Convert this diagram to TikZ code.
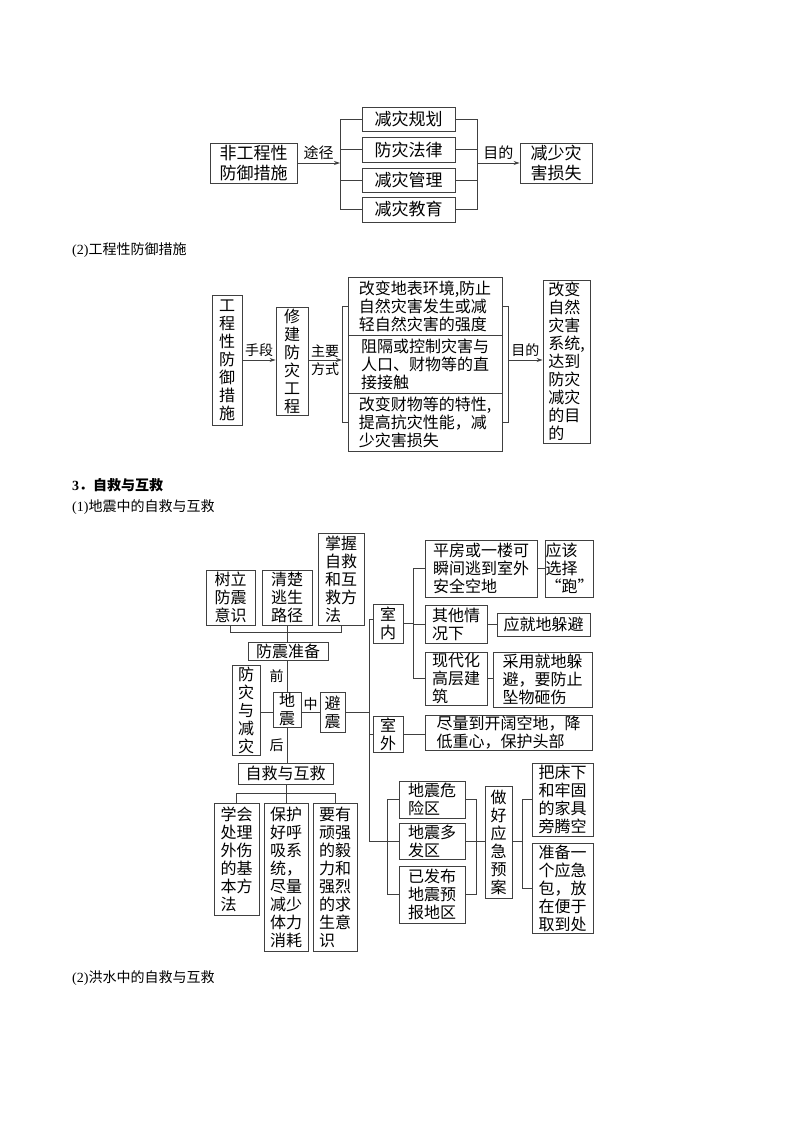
\documentclass[tikz,border=0pt]{standalone}
\usepackage{fontspec}
\setmainfont{Noto Sans CJK SC}
\newfontfamily\lat{Liberation Serif}
\usetikzlibrary{arrows.meta}
\newcommand\mybox[7][]{\node[bx,#1,minimum width={(#5-#3)*1pt},minimum height={(#6-#4)*1pt}] (#2) at ({(#3+#5)/2},{(#4+#6)/2}) {#7};}
\begin{document}
\begin{tikzpicture}[x=1pt,y=-1pt,
  bx/.style={draw=black!75, line width=0.9pt, inner sep=0pt, align=left, font=\fontsize{16}{18}\selectfont},
  fbig/.style={font=\fontsize{17}{20}\selectfont},
  ln/.style={draw=black!75, line width=0.9pt},
  arr/.style={ln, -{Stealth[length=6pt,width=4pt]}},
  lab/.style={inner sep=0pt, font=\fontsize{14}{18}\selectfont},
  hd/.style={anchor=west, inner sep=0pt, font=\fontsize{14}{16}\selectfont}]
\fill[white] (0,0) rectangle (800,1132);
\useasboundingbox (0,0) rectangle (800,1132);
% ---------- diagram 1
\mybox[fbig]{n1}{210}{143}{297}{183}{非工程性\\防御措施}
\mybox[fbig]{r1}{362}{107}{455}{131}{减灾规划}
\mybox[fbig]{r2}{362}{137}{455}{162}{防灾法律}
\mybox[fbig]{r3}{362}{168}{455}{192}{减灾管理}
\mybox[fbig]{r4}{362}{197}{455}{222}{减灾教育}
\mybox[fbig]{t1}{520}{143}{592}{183}{减少灾\\害损失}
\coordinate (L1) at (340,0);
\coordinate (R1) at (477,0);
\draw[arr] (n1.east) -- (n1.east -| L1) node[lab,midway,above=3pt,font=\fontsize{15}{18}\selectfont]{途径};
\draw[ln] (r1.west) -- (r1.west -| L1) -- (r4.west -| L1) -- (r4.west);
\draw[ln] (r2.west) -- (r2.west -| L1);
\draw[ln] (r3.west) -- (r3.west -| L1);
\draw[ln] (r1.east) -- (r1.east -| R1) -- (r4.east -| R1) -- (r4.east);
\draw[ln] (r2.east) -- (r2.east -| R1);
\draw[ln] (r3.east) -- (r3.east -| R1);
\draw[arr] (t1.west -| R1) -- (t1.west) node[lab,midway,above=3pt,font=\fontsize{15}{18}\selectfont]{目的};
% ---------- heading
\node[hd] (h1) at (72,250) {{\lat (2)}工程性防御措施};
% ---------- diagram 2
\mybox{m1}{212}{295}{242}{425}{工\\程\\性\\防\\御\\措\\施}
\mybox{m2}{276}{307}{308}{415}{修\\建\\防\\灾\\工\\程}
\mybox{k1}{348}{277}{502}{335}{改变地表环境,防止\\自然灾害发生或减\\轻自然灾害的强度}
\mybox{k2}{348}{335}{502}{393}{阻隔或控制灾害与\\人口、财物等的直\\接接触}
\mybox{k3}{348}{393}{502}{451}{改变财物等的特性,\\提高抗灾性能，减\\少灾害损失}
\mybox{t2}{543}{280}{590}{443}{改变\\自然\\灾害\\系统,\\达到\\防灾\\减灾\\的目\\的}
\coordinate (L2) at (342,0);
\coordinate (R2) at (508,0);
\draw[arr] (m1.east) -- (m1.east -| m2.west) node[lab,midway,above=3pt]{手段};
\draw[arr] (m1.east -| m2.east) -- (m1.east -| L2) node[lab,midway,align=center]{主要\\方式};
\draw[ln] (k1.west) -- (k1.west -| L2) -- (k3.west -| L2) -- (k3.west);
\draw[ln] (k1.east) -- (k1.east -| R2) -- (k3.east -| R2) -- (k3.east);
\draw[arr] (m1.east -| R2) -- (m1.east -| t2.west) node[lab,midway,above=3pt]{目的};
% ---------- headings
\node[hd] (h2) at (72,485) {\bfseries{\lat 3}．自救与互救};
\node[hd] (h3) at (72,507) {{\lat (1)}地震中的自救与互救};
% ---------- diagram 3 left part
\mybox{a1}{206}{570}{255}{625}{树立\\防震\\意识}
\mybox{a2}{262}{570}{312}{625}{清楚\\逃生\\路径}
\mybox{a3}{318}{533}{364}{625}{掌握\\自救\\和互\\救方\\法}
\mybox{fz}{248}{642}{328}{660}{防震准备}
\coordinate (Y1) at (0,632);
\draw[ln] (a1.south) -- (a1.south |- Y1) -- (a3.south |- Y1) -- (a3.south);
\draw[ln] (a2.south) -- (a2.south |- fz.north);
\mybox{dz}{273}{692}{301}{727}{地\\震}
\mybox{fj}{232}{665}{260}{755}{防\\灾\\与\\减\\灾}
\mybox{bz}{320}{692}{345}{732}{避\\震}
\draw[ln] (dz.north |- fz.south) -- (dz.north) node[lab,midway,left=3pt]{前};
\coordinate (Y2) at (0,712);
\draw[ln] (fj.east |- Y2) -- (dz.west |- Y2);
\draw[ln] (dz.east |- Y2) -- (bz.west |- Y2) node[lab,midway,above=1pt]{中};
\mybox{zj}{238}{763}{333}{784}{自救与互救}
\draw[ln] (dz.south) -- (dz.south |- zj.north) node[lab,midway,left=3pt]{后};
\mybox{b1}{214}{803}{259}{915}{学会\\处理\\外伤\\的基\\本方\\法}
\mybox{b2}{264}{803}{308}{951}{保护\\好呼\\吸系\\统，\\尽量\\减少\\体力\\消耗}
\mybox{b3}{313}{803}{357}{951}{要有\\顽强\\的毅\\力和\\强烈\\的求\\生意\\识}
\coordinate (Y3) at (0,793);
\draw[ln] (b1.north) -- (b1.north |- Y3) -- (b3.north |- Y3) -- (b3.north);
\draw[ln] (b2.north |- zj.south) -- (b2.north);
% ---------- diagram 3 right part
\coordinate (T) at (369,0);
\mybox{sn}{373}{604}{403}{643}{室\\内}
\mybox{sw}{373}{716}{403}{752}{室\\外}
\mybox{d1}{399}{781}{465}{818}{地震危\\险区}
\mybox{d2}{399}{823}{465}{859}{地震多\\发区}
\mybox{d3}{399}{866}{465}{923}{已发布\\地震预\\报地区}
\mybox{zy}{485}{786}{512}{898}{做\\好\\应\\急\\预\\案}
\mybox{c1}{532}{763}{593}{836}{把床下\\和牢固\\的家具\\旁腾空}
\mybox{c2}{532}{843}{593}{933}{准备一\\个应急\\包，放\\在便于\\取到处}
\draw[ln] ([yshift=4pt]sn.west) -- ([yshift=4pt]sn.west -| T) -- (d2.west -| T) -- (d2.west);
\draw[ln] (bz.east |- Y2) -- (Y2 -| T);
\draw[ln] (sw.west) -- (sw.west -| T);
\coordinate (L3) at (387,0);
\coordinate (R3) at (476,0);
\coordinate (R4) at (522,0);
\draw[ln] (d1.west) -- (d1.west -| L3) -- (d3.west -| L3) -- (d3.west);
\draw[ln] (d1.east) -- (d1.east -| R3) -- (d3.east -| R3) -- (d3.east);
\draw[ln] (d2.east) -- (d2.east -| zy.west);
\draw[ln] (zy.east |- d2.east) -- (d2.east -| R4);
\draw[ln] (c1.west) -- (c1.west -| R4) -- (c2.west -| R4) -- (c2.west);
\coordinate (S1) at (413,0);
\mybox{p1}{425}{540}{537}{597}{平房或一楼可\\瞬间逃到室外\\安全空地}
\mybox{p2}{547}{540}{592}{597}{应该\\选择\\“跑”}
\mybox{q1}{425}{605}{487}{643}{其他情\\况下}
\mybox{q2}{497}{613}{590}{636}{应就地躲避}
\mybox{x1}{425}{652}{487}{705}{现代化\\高层建\\筑}
\mybox{x2}{493}{652}{592}{707}{采用就地躲\\避，要防止\\坠物砸伤}
\mybox{w2}{425}{715}{592}{750}{尽量到开阔空地，降\\低重心，保护头部}
\draw[ln] (sn.east) -- (sn.east -| S1);
\draw[ln] (p1.west) -- (p1.west -| S1) -- (x1.west -| S1) -- (x1.west);
\draw[ln] (q1.west) -- (q1.west -| S1);
\draw[ln] (p1.east) -- (p2.west |- p1.east);
\draw[ln] (q1.east) -- (q2.west |- q1.east);
\draw[ln] (x1.east) -- (x2.west |- x1.east);
\draw[ln] (sw.east) -- (w2.west |- sw.east);
% ---------- heading
\node[hd] (h4) at (72,978) {{\lat (2)}洪水中的自救与互救};
\end{tikzpicture}
\end{document}
